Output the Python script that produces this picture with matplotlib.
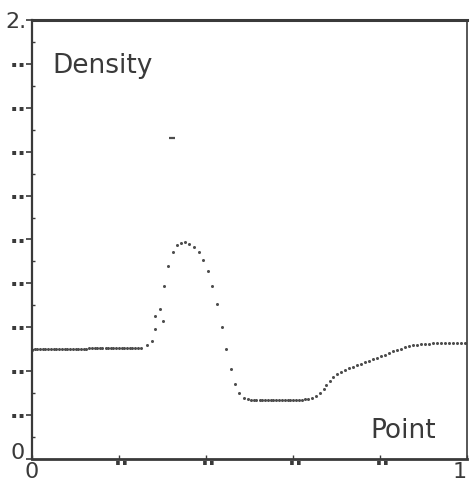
import matplotlib
matplotlib.use("Agg")
import matplotlib.pyplot as plt
from matplotlib.transforms import ScaledTranslation

# ---- data ----
point_x = [
    0.000, 0.006, 0.012, 0.019, 0.025, 0.031, 0.037, 0.044, 0.050, 0.056,
    0.062, 0.069, 0.075, 0.081, 0.087, 0.094, 0.100, 0.106, 0.112, 0.119,
    0.125, 0.131, 0.137, 0.144, 0.150, 0.156, 0.162, 0.169, 0.175, 0.181,
    0.187, 0.194, 0.200, 0.206, 0.212, 0.219, 0.225, 0.231, 0.237, 0.244,
    0.250,
    0.265, 0.275, 0.282, 0.283, 0.294, 0.300, 0.303, 0.313, 0.323, 0.333,
    0.343, 0.352, 0.362, 0.372, 0.384, 0.392, 0.404, 0.414, 0.425, 0.436,
    0.447, 0.457, 0.467, 0.477, 0.487, 0.497,
    0.503, 0.510, 0.516, 0.523, 0.529, 0.536, 0.542, 0.549, 0.555, 0.562,
    0.568, 0.575, 0.581, 0.588, 0.594, 0.601, 0.607, 0.614, 0.620, 0.627,
    0.634,
    0.643, 0.652, 0.662, 0.671, 0.677, 0.685, 0.693, 0.702, 0.711, 0.720,
    0.729, 0.739, 0.748, 0.757, 0.766, 0.775, 0.785, 0.794, 0.803, 0.812,
    0.821, 0.831, 0.840, 0.849, 0.858, 0.867, 0.877, 0.886, 0.895, 0.904,
    0.913, 0.922, 0.931, 0.940, 0.949, 0.959, 0.968, 0.977, 0.986, 0.995,
]
density = [
    0.498, 0.499, 0.499, 0.500, 0.500, 0.500, 0.501, 0.501, 0.501, 0.501,
    0.502, 0.502, 0.502, 0.502, 0.502, 0.503, 0.503, 0.503, 0.503, 0.503,
    0.503, 0.504, 0.504, 0.504, 0.504, 0.504, 0.504, 0.504, 0.505, 0.505,
    0.505, 0.505, 0.505, 0.505, 0.506, 0.506, 0.506, 0.506, 0.506, 0.507,
    0.507,
    0.519, 0.538, 0.651, 0.592, 0.683, 0.629, 0.788, 0.881, 0.941, 0.974,
    0.985, 0.989, 0.981, 0.967, 0.942, 0.907, 0.858, 0.790, 0.706, 0.603,
    0.501, 0.410, 0.343, 0.302, 0.279, 0.272,
    0.271, 0.271, 0.270, 0.270, 0.270, 0.270, 0.270, 0.270, 0.270, 0.270,
    0.270, 0.270, 0.270, 0.270, 0.270, 0.270, 0.270, 0.271, 0.271, 0.272,
    0.273,
    0.277, 0.287, 0.299, 0.318, 0.337, 0.357, 0.372, 0.386, 0.398, 0.405,
    0.413, 0.421, 0.427, 0.433, 0.441, 0.446, 0.454, 0.460, 0.468, 0.475,
    0.484, 0.491, 0.498, 0.503, 0.509, 0.513, 0.518, 0.521, 0.524, 0.525,
    0.526, 0.527, 0.527, 0.527, 0.527, 0.527, 0.527, 0.527, 0.527, 0.527,
]
outlier_x = [0.322]
outlier_y = [1.462]

y_ticks = [0.0, 0.2, 0.4, 0.6, 0.8, 1.0, 1.2, 1.4, 1.6, 1.8, 2.0]
y_tick_labels = ["0", "··", "··", "··", "··", "··", "··", "··", "··", "··", "2."]
x_ticks = [0.0, 0.2, 0.4, 0.6, 0.8, 1.0]
x_tick_labels = ["0", "··", "··", "··", "··", "1"]

# ---- figure ----
W, H = 471, 494
fig = plt.figure(figsize=(W / 100, H / 100), dpi=100)
fig.patch.set_facecolor("white")
ax = fig.add_axes([32 / W, 35 / H, (467 - 32) / W, (474 - 35) / H])
ax.set_facecolor("white")

ink = "#3a3a3a"
ax.plot(point_x, density, linestyle="none", marker="o", ms=2.2,
        mew=0, color="#4d4d4d", clip_on=False)
ax.plot(outlier_x, outlier_y, linestyle="none", marker="_", ms=5, mew=1.6,
        color="#4d4d4d")

ax.set_xlim(0, 1)
ax.set_ylim(0, 2)

for side, lw in (("top", 2.2), ("bottom", 2.0), ("left", 1.6), ("right", 1.2)):
    ax.spines[side].set_linewidth(lw)
    ax.spines[side].set_color(ink)

ax.set_yticks(y_ticks)
ax.set_yticklabels(y_tick_labels)
ax.set_xticks(x_ticks)
ax.set_xticklabels(x_tick_labels)
ax.tick_params(axis="y", direction="out", length=4, width=1.2, color=ink,
               labelsize=16, labelcolor=ink, pad=0)
ax.tick_params(axis="x", direction="in", length=3, width=1.0, color=ink,
               labelsize=16, labelcolor=ink, pad=2)
ax.set_yticks([0.1, 0.3, 0.5, 0.7, 0.9, 1.1, 1.3, 1.5, 1.7, 1.9], minor=True)
ax.tick_params(axis="y", which="minor", direction="in", length=2, width=1.0,
               color=ink)

ylabs = ax.get_yticklabels()
for lab in ylabs:
    if lab.get_text() == "··":
        lab.set_fontweight("bold")
        lab.set_fontsize(16)
ylabs[0].set_va("bottom")
ylabs[0].set_transform(ylabs[0].get_transform() +
                       ScaledTranslation(-2 / 100, -4 / 100, fig.dpi_scale_trans))

xlabs = ax.get_xticklabels()
for lab in xlabs:
    if lab.get_text() == "··":
        lab.set_fontweight("bold")
        lab.set_fontsize(15)
        lab.set_transform(lab.get_transform() +
                          ScaledTranslation(3 / 100, 8 / 100, fig.dpi_scale_trans))
xlabs[-1].set_ha("right")

ax.text(0.046, 0.879, "Density", transform=ax.transAxes, fontsize=19,
        color=ink, ha="left", va="baseline", family="DejaVu Sans")
ax.text(0.777, 0.048, "Point", transform=ax.transAxes, fontsize=19,
        color=ink, ha="left", va="baseline", family="DejaVu Sans")

fig.savefig("out.png", dpi=100, facecolor="white")
